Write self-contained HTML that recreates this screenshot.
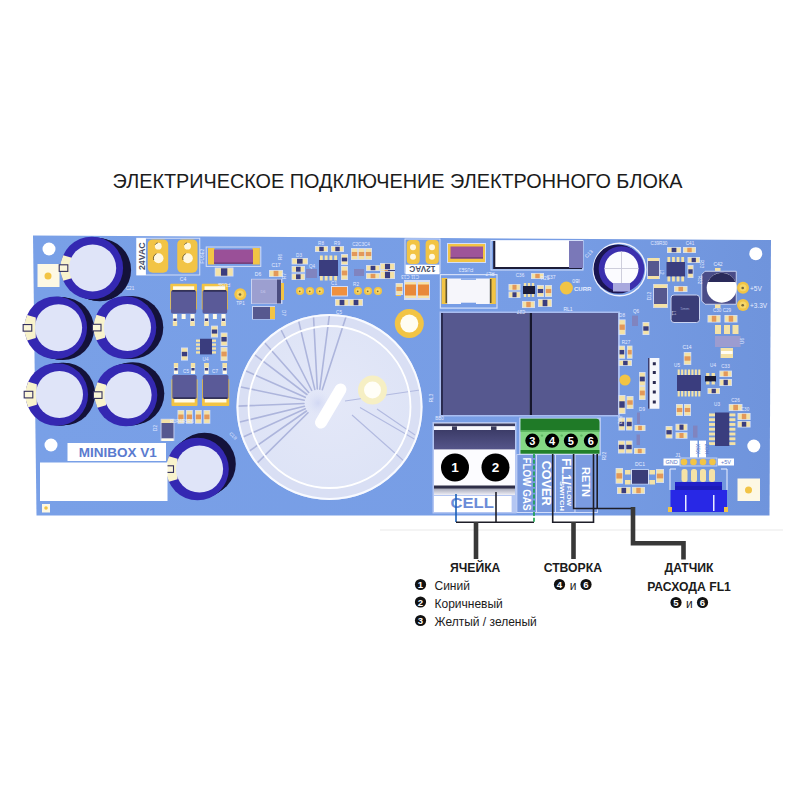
<!DOCTYPE html>
<html><head><meta charset="utf-8">
<style>
html,body{margin:0;padding:0;background:#fff;}
body{width:800px;height:800px;overflow:hidden;position:relative;font-family:"Liberation Sans",sans-serif;}
svg{position:absolute;left:0;top:0;}
</style></head>
<body>
<svg width="800" height="800" viewBox="0 0 800 800" font-family="Liberation Sans, sans-serif">
<defs>
<g id="cap">
  <circle cx="6" cy="-2" r="32" fill="#15123a"/>
  <circle cx="0" cy="0" r="32" fill="#3327b0"/>
  <path d="M-31.3,-11 A32,32 0 0 0 -31.3,11 L-21,8 L-21,-8 Z" fill="#f8f2cf"/>
  <rect x="-30.5" y="-3.5" width="7" height="7" fill="none" stroke="#2c2a60" stroke-width="1.3"/>
  <circle cx="2.5" cy="0" r="23.7" fill="#dfe4f8"/>
</g>
</defs>

<text x="112.6" y="188" font-size="20" textLength="570" lengthAdjust="spacingAndGlyphs" fill="#1b1b1b">ЭЛЕКТРИЧЕСКОЕ ПОДКЛЮЧЕНИЕ ЭЛЕКТРОННОГО БЛОКА</text>
<defs><linearGradient id="bg" x1="0" y1="0" x2="1" y2="0"><stop offset="0" stop-color="#79a0e7"/><stop offset="0.7" stop-color="#779de5"/><stop offset="1" stop-color="#6f94dc"/></linearGradient></defs>
<polygon points="33,235.5 771,240 769.5,515.5 36.5,515.5" fill="url(#bg)"/>
<circle cx="49" cy="249" r="6.5" fill="#fff"/>
<circle cx="755.8" cy="253.7" r="6.5" fill="#fff"/>
<circle cx="51" cy="445" r="6.5" fill="#fff"/>
<circle cx="753.8" cy="446" r="6.5" fill="#fff"/>
<rect x="37.50" y="264.00" width="22.00" height="23.00" fill="#fdf8e4" />
<circle cx="48" cy="276" r="3.5" fill="#f2c445"/>
<rect x="737.50" y="478.50" width="22.50" height="22.50" fill="#fdf8e4" />
<circle cx="748.5" cy="490" r="3.5" fill="#f2c445"/>
<rect x="42.00" y="504.00" width="8.00" height="8.50" fill="#fdf8e4" />
<circle cx="46" cy="508" r="1.8" fill="#f2c445"/>
<rect x="136.75" y="238.25" width="63" height="36.75" fill="none" stroke="#d3def8" stroke-width="1"/>
<rect x="136.50" y="238.10" width="9.40" height="37.00" fill="#fff" />
<text transform="translate(144.6,270.1) rotate(-90)" font-size="9.2" font-weight="bold" fill="#474d66" textLength="27.8" lengthAdjust="spacingAndGlyphs">24VAC</text>
<rect x="147.75" y="239.4" width="20.44999999999999" height="33.4" rx="5" fill="#f2c445"/>
<circle cx="158.3" cy="246.2" r="3.4" fill="#fff8e0"/>
<circle cx="158.5" cy="258.3" r="5" fill="#fff8e0"/>
<path d="M155.10000000000002,244.8 A3.4,3.4 0 0 1 157.8,242.85" stroke="#5a4a20" stroke-width="0.8" fill="none"/>
<path d="M153.7,260 A5,5 0 0 1 156.5,253.7" stroke="#5a4a20" stroke-width="0.8" fill="none"/>
<rect x="177.25" y="239.4" width="20.25" height="33.4" rx="5" fill="#f2c445"/>
<circle cx="187.6" cy="246.2" r="3.4" fill="#fff8e0"/>
<circle cx="187.79999999999998" cy="258.3" r="5" fill="#fff8e0"/>
<path d="M184.4,244.8 A3.4,3.4 0 0 1 187.1,242.85" stroke="#5a4a20" stroke-width="0.8" fill="none"/>
<path d="M182.99999999999997,260 A5,5 0 0 1 185.79999999999998,253.7" stroke="#5a4a20" stroke-width="0.8" fill="none"/>
<rect x="206.2" y="247" width="54.6" height="19.4" fill="none" stroke="#d3def8" stroke-width="1"/>
<rect x="208.00" y="248.00" width="6.50" height="16.50" fill="#f2c445" />
<rect x="252.50" y="248.00" width="7.30" height="16.50" fill="#f2c445" />
<rect x="214.00" y="249.50" width="39.00" height="14.25" fill="#9a5098" />
<rect x="214.00" y="262.50" width="39.00" height="1.25" fill="#6a3a70" />
<rect x="214.75" y="267.50" width="18.75" height="9.00" fill="#d3def8" />
<rect x="215.55" y="268.30" width="17.15" height="7.40" fill="#f4e2a6" />
<rect x="220.94" y="268.30" width="6.38" height="7.40" fill="#3a3d7e" />
<rect x="170.25" y="283.7" width="26.75" height="26" rx="1" fill="#f2c445"/>
<rect x="173.05" y="286.30" width="21.15" height="3.50" fill="#fffbe8" />
<rect x="171.05" y="290.2" width="25.15" height="23.2" rx="1.5" fill="#5a5a98"/>
<rect x="172.25" y="290.20" width="22.75" height="1.40" fill="#23244a" />
<rect x="172.90" y="314.00" width="4.20" height="12.00" fill="#fffbe8" />
<rect x="173.40" y="318.50" width="3.20" height="2.50" fill="#3a3d7e" />
<rect x="172.90" y="321.50" width="4.20" height="4.50" fill="#f4e2a6" />
<rect x="190.40" y="314.00" width="4.20" height="12.00" fill="#fffbe8" />
<rect x="190.90" y="318.50" width="3.20" height="2.50" fill="#3a3d7e" />
<rect x="190.40" y="321.50" width="4.20" height="4.50" fill="#f4e2a6" />
<rect x="181.62" y="314.00" width="4.00" height="5.00" fill="#fffbe8" />
<rect x="201.75" y="283.7" width="26.25" height="26" rx="1" fill="#f2c445"/>
<rect x="204.55" y="286.30" width="20.65" height="3.50" fill="#fffbe8" />
<rect x="202.55" y="290.2" width="24.65" height="23.2" rx="1.5" fill="#5a5a98"/>
<rect x="203.75" y="290.20" width="22.25" height="1.40" fill="#23244a" />
<rect x="204.40" y="314.00" width="4.20" height="12.00" fill="#fffbe8" />
<rect x="204.90" y="318.50" width="3.20" height="2.50" fill="#3a3d7e" />
<rect x="204.40" y="321.50" width="4.20" height="4.50" fill="#f4e2a6" />
<rect x="221.40" y="314.00" width="4.20" height="12.00" fill="#fffbe8" />
<rect x="221.90" y="318.50" width="3.20" height="2.50" fill="#3a3d7e" />
<rect x="221.40" y="321.50" width="4.20" height="4.50" fill="#f4e2a6" />
<rect x="212.88" y="314.00" width="4.00" height="5.00" fill="#fffbe8" />
<text x="183" y="281" font-size="5" fill="#e8eeff" text-anchor="middle" font-weight="normal" >C4</text>
<circle cx="240.3" cy="294.2" r="6" fill="#f2c445"/>
<circle cx="240.3" cy="294.2" r="3.60" fill="#f7d768"/>
<circle cx="240.0" cy="294.5" r="1.32" fill="#7a6a3a"/>
<rect x="251.00" y="278.80" width="31.50" height="25.20" fill="#c9d3f2" />
<rect x="252.00" y="279.50" width="25.00" height="24.00" fill="#9c9fd0" />
<rect x="277.00" y="279.50" width="4.00" height="24.00" fill="#4a4c80" />
<rect x="281.00" y="283.00" width="3.00" height="17.00" fill="#f2c445" />
<text x="263" y="293" font-size="4" fill="#c8ccee" text-anchor="middle" font-weight="normal" >D6</text>
<rect x="252.00" y="306.00" width="23.00" height="13.50" fill="#c9d3f2" />
<rect x="253.00" y="307.00" width="17.00" height="12.00" fill="#56588f" />
<rect x="270.00" y="307.00" width="5.00" height="12.00" fill="#f2c445" />
<rect x="269.00" y="270.00" width="14.00" height="7.00" fill="#d3def8" />
<rect x="269.80" y="270.80" width="12.40" height="5.40" fill="#f4e2a6" />
<rect x="273.62" y="270.80" width="4.76" height="5.40" fill="#e2985a" />
<text x="276" y="267" font-size="5" fill="#e8eeff" text-anchor="middle" font-weight="normal" >C17</text>
<text x="258" y="276" font-size="5" fill="#e8eeff" text-anchor="middle" font-weight="normal" >D6</text>
<rect x="291.60" y="258.00" width="16.40" height="6.50" fill="#d3def8" />
<rect x="292.40" y="258.80" width="14.80" height="4.90" fill="#f4e2a6" />
<rect x="297.01" y="258.80" width="5.58" height="4.90" fill="#3a3d7e" />
<rect x="291.60" y="266.00" width="13.40" height="6.50" fill="#d3def8" />
<rect x="292.40" y="266.80" width="11.80" height="4.90" fill="#f4e2a6" />
<rect x="296.02" y="266.80" width="4.56" height="4.90" fill="#3a3d7e" />
<rect x="291.60" y="273.50" width="13.40" height="6.50" fill="#d3def8" />
<rect x="292.40" y="274.30" width="11.80" height="4.90" fill="#f4e2a6" />
<rect x="296.02" y="274.30" width="4.56" height="4.90" fill="#3a3d7e" />
<rect x="319.00" y="260.00" width="19.00" height="16.00" fill="#3a3d7e" />
<rect x="319.95" y="255.50" width="2.85" height="4.50" fill="#f4e2a6" />
<rect x="319.95" y="276.00" width="2.85" height="4.50" fill="#f4e2a6" />
<rect x="324.70" y="255.50" width="2.85" height="4.50" fill="#f4e2a6" />
<rect x="324.70" y="276.00" width="2.85" height="4.50" fill="#f4e2a6" />
<rect x="329.45" y="255.50" width="2.85" height="4.50" fill="#f4e2a6" />
<rect x="329.45" y="276.00" width="2.85" height="4.50" fill="#f4e2a6" />
<rect x="334.20" y="255.50" width="2.85" height="4.50" fill="#f4e2a6" />
<rect x="334.20" y="276.00" width="2.85" height="4.50" fill="#f4e2a6" />
<rect x="315.00" y="246.00" width="13.00" height="6.00" fill="#d3def8" />
<rect x="315.80" y="246.80" width="11.40" height="4.40" fill="#f4e2a6" />
<rect x="319.29" y="246.80" width="4.42" height="4.40" fill="#3a3d7e" />
<rect x="331.00" y="246.00" width="13.00" height="6.00" fill="#d3def8" />
<rect x="331.80" y="246.80" width="11.40" height="4.40" fill="#f4e2a6" />
<rect x="335.29" y="246.80" width="4.42" height="4.40" fill="#3a3d7e" />
<rect x="341.00" y="254.00" width="7.00" height="11.00" fill="#d3def8" />
<rect x="341.80" y="254.80" width="5.40" height="9.40" fill="#f4e2a6" />
<rect x="341.80" y="257.63" width="5.40" height="3.74" fill="#3a3d7e" />
<rect x="341.00" y="266.00" width="7.00" height="14.00" fill="#d3def8" />
<rect x="341.80" y="266.80" width="5.40" height="12.40" fill="#f4e2a6" />
<rect x="341.80" y="270.62" width="5.40" height="4.76" fill="#e2985a" />
<rect x="306" y="269" width="11" height="9" fill="#8084bf"/>
<rect x="351.00" y="248.00" width="7.00" height="12.00" fill="#d3def8" />
<rect x="351.80" y="248.80" width="5.40" height="10.40" fill="#f4e2a6" />
<rect x="351.80" y="251.96" width="5.40" height="4.08" fill="#e2985a" />
<rect x="358.00" y="248.00" width="7.00" height="12.00" fill="#d3def8" />
<rect x="358.80" y="248.80" width="5.40" height="10.40" fill="#f4e2a6" />
<rect x="358.80" y="251.96" width="5.40" height="4.08" fill="#e2985a" />
<rect x="365.00" y="248.00" width="7.00" height="12.00" fill="#d3def8" />
<rect x="365.80" y="248.80" width="5.40" height="10.40" fill="#f4e2a6" />
<rect x="365.80" y="251.96" width="5.40" height="4.08" fill="#e2985a" />
<circle cx="300" cy="291" r="4" fill="#f2c445"/>
<circle cx="300" cy="291" r="2.40" fill="#f7d768"/>
<circle cx="299.7" cy="291.3" r="0.88" fill="#7a6a3a"/>
<circle cx="310" cy="291" r="4" fill="#f2c445"/>
<circle cx="310" cy="291" r="2.40" fill="#f7d768"/>
<circle cx="309.7" cy="291.3" r="0.88" fill="#7a6a3a"/>
<circle cx="320" cy="291" r="4" fill="#f2c445"/>
<circle cx="320" cy="291" r="2.40" fill="#f7d768"/>
<circle cx="319.7" cy="291.3" r="0.88" fill="#7a6a3a"/>
<circle cx="358" cy="291" r="4" fill="#f2c445"/>
<circle cx="358" cy="291" r="2.40" fill="#f7d768"/>
<circle cx="357.7" cy="291.3" r="0.88" fill="#7a6a3a"/>
<circle cx="368" cy="291" r="4" fill="#f2c445"/>
<circle cx="368" cy="291" r="2.40" fill="#f7d768"/>
<circle cx="367.7" cy="291.3" r="0.88" fill="#7a6a3a"/>
<circle cx="378" cy="291" r="4" fill="#f2c445"/>
<circle cx="378" cy="291" r="2.40" fill="#f7d768"/>
<circle cx="377.7" cy="291.3" r="0.88" fill="#7a6a3a"/>
<rect x="331.00" y="286.00" width="17.00" height="10.50" fill="#d3def8" />
<rect x="332.00" y="287.00" width="15.00" height="8.50" fill="#f0903e" />
<rect x="335.00" y="299.00" width="14.00" height="7.00" fill="#d3def8" />
<rect x="335.80" y="299.80" width="12.40" height="5.40" fill="#f4e2a6" />
<rect x="339.62" y="299.80" width="4.76" height="5.40" fill="#3a3d7e" />
<rect x="349.00" y="299.00" width="14.00" height="7.00" fill="#d3def8" />
<rect x="349.80" y="299.80" width="12.40" height="5.40" fill="#f4e2a6" />
<rect x="353.62" y="299.80" width="4.76" height="5.40" fill="#3a3d7e" />
<rect x="354" y="269" width="10" height="7" fill="#8084bf"/>
<rect x="366.00" y="265.00" width="14.00" height="6.00" fill="#d3def8" />
<rect x="366.80" y="265.80" width="12.40" height="4.40" fill="#f4e2a6" />
<rect x="370.62" y="265.80" width="4.76" height="4.40" fill="#3a3d7e" />
<rect x="366.00" y="273.00" width="14.00" height="6.00" fill="#d3def8" />
<rect x="366.80" y="273.80" width="12.40" height="4.40" fill="#f4e2a6" />
<rect x="370.62" y="273.80" width="4.76" height="4.40" fill="#e2985a" />
<rect x="380.00" y="266.00" width="14.00" height="6.00" fill="#d3def8" />
<rect x="380.80" y="266.80" width="12.40" height="4.40" fill="#f4e2a6" />
<rect x="384.62" y="266.80" width="4.76" height="4.40" fill="#e2985a" />
<rect x="380.00" y="273.00" width="14.00" height="6.00" fill="#d3def8" />
<rect x="380.80" y="273.80" width="12.40" height="4.40" fill="#f4e2a6" />
<rect x="384.62" y="273.80" width="4.76" height="4.40" fill="#e2985a" />
<rect x="388.00" y="264.00" width="7.00" height="9.00" fill="#3a3d7e" />
<rect x="396.00" y="283.00" width="5.00" height="13.00" fill="#f2c445" />
<rect x="405" y="239" width="35" height="34" fill="none" stroke="#d3def8" stroke-width="1"/>
<rect x="406.75" y="240" width="12.949999999999989" height="24" rx="4" fill="#f2c445"/>
<circle cx="413" cy="247.25" r="3" fill="#fff8e0"/>
<circle cx="413" cy="256.8" r="3" fill="#fff8e0"/>
<rect x="425.6" y="240" width="13.199999999999989" height="24" rx="4" fill="#f2c445"/>
<circle cx="432" cy="247.25" r="3" fill="#fff8e0"/>
<circle cx="432" cy="256.8" r="3" fill="#fff8e0"/>
<rect x="405.60" y="264.70" width="33.80" height="9.55" fill="#fff" />
<text transform="translate(435.4,265.9) rotate(180)" font-size="8.6" font-weight="bold" fill="#474d66" textLength="26" lengthAdjust="spacingAndGlyphs">12VAC</text>
<rect x="447.00" y="243.00" width="39.00" height="20.00" fill="#d3def8" />
<rect x="448.00" y="244.00" width="37.00" height="18.00" fill="#f2c445" />
<rect x="450.50" y="246.50" width="32.50" height="12.00" fill="#9e5499" />
<rect x="450.50" y="257.30" width="32.50" height="1.20" fill="#6a3a70" />
<text x="466" y="268" font-size="4.5" fill="#e8eeff" text-anchor="middle" font-weight="normal" transform="rotate(180 466 268)" >FUSE3</text>
<rect x="439.80" y="274.00" width="57.80" height="34.70" fill="#d3def8" />
<rect x="441.00" y="275.20" width="55.40" height="32.30" fill="#779de5" />
<rect x="441.60" y="278.00" width="5.60" height="26.00" fill="#f2c445" />
<rect x="489.70" y="278.00" width="6.10" height="26.00" fill="#f2c445" />
<rect x="445.50" y="279.00" width="1.80" height="24.00" fill="#5a5030" />
<rect x="489.70" y="279.00" width="1.80" height="24.00" fill="#5a5030" />
<rect x="447.25" y="278.50" width="42.45" height="25.50" fill="#f6f6fb" />
<rect x="461.00" y="278.50" width="15.00" height="1.30" fill="#779de5" />
<rect x="461.00" y="302.70" width="15.00" height="1.30" fill="#779de5" />
<text x="490" y="272" font-size="5" fill="#e8eeff" text-anchor="middle" font-weight="normal" transform="rotate(180 490 272)" >RL7</text>
<rect x="404.00" y="280.00" width="26.00" height="20.00" fill="#d3def8" />
<rect x="405.00" y="282.00" width="11.00" height="16.00" fill="#f6e2a8" />
<rect x="418.00" y="282.00" width="11.00" height="16.00" fill="#f6e2a8" />
<rect x="405.00" y="284.50" width="11.00" height="11.00" fill="#e8893a" />
<rect x="418.00" y="284.50" width="11.00" height="11.00" fill="#e8893a" />
<rect x="395.60" y="283.00" width="7.40" height="12.00" fill="#d3def8" />
<rect x="396.40" y="283.80" width="5.80" height="10.40" fill="#f4e2a6" />
<rect x="396.40" y="286.96" width="5.80" height="4.08" fill="#e2985a" />
<rect x="380.00" y="263.00" width="15.00" height="7.00" fill="#d3def8" />
<rect x="380.80" y="263.80" width="13.40" height="5.40" fill="#f4e2a6" />
<rect x="384.95" y="263.80" width="5.10" height="5.40" fill="#3a3d7e" />
<rect x="380.00" y="271.00" width="15.00" height="8.00" fill="#d3def8" />
<rect x="380.80" y="271.80" width="13.40" height="6.40" fill="#f4e2a6" />
<rect x="384.95" y="271.80" width="5.10" height="6.40" fill="#3a3d7e" />
<circle cx="409.3" cy="323.6" r="14.5" fill="#f2c445"/>
<circle cx="409.3" cy="323.6" r="9" fill="#fffdf2"/>
<rect x="490.50" y="240.00" width="93.00" height="30.50" fill="#d3def8" />
<rect x="491.50" y="241.00" width="91.00" height="28.50" fill="#779de5" />
<rect x="493.20" y="241.00" width="88.80" height="28.00" fill="#1c1c38" />
<rect x="495.30" y="240.50" width="73.70" height="26.50" fill="#ffffff" />
<rect x="569.00" y="241.00" width="14.00" height="27.00" fill="#7a78b8" />
<text x="576" y="279" font-size="5" fill="#e8eeff" text-anchor="middle" font-weight="normal" transform="rotate(180 576 279)" >IB0</text>
<rect x="508.50" y="284.00" width="12.00" height="6.50" fill="#d3def8" />
<rect x="509.30" y="284.80" width="10.40" height="4.90" fill="#f4e2a6" />
<rect x="512.46" y="284.80" width="4.08" height="4.90" fill="#e2985a" />
<rect x="508.50" y="291.50" width="12.00" height="6.50" fill="#d3def8" />
<rect x="509.30" y="292.30" width="10.40" height="4.90" fill="#f4e2a6" />
<rect x="512.46" y="292.30" width="4.08" height="4.90" fill="#3a3d7e" />
<rect x="523.00" y="286.00" width="12.00" height="8.00" fill="#1c1d3a" />
<rect x="523.80" y="283.00" width="2.40" height="3.00" fill="#f4e2a6" />
<rect x="523.80" y="294.00" width="2.40" height="3.00" fill="#f4e2a6" />
<rect x="527.80" y="283.00" width="2.40" height="3.00" fill="#f4e2a6" />
<rect x="527.80" y="294.00" width="2.40" height="3.00" fill="#f4e2a6" />
<rect x="531.80" y="283.00" width="2.40" height="3.00" fill="#f4e2a6" />
<rect x="531.80" y="294.00" width="2.40" height="3.00" fill="#f4e2a6" />
<rect x="522.00" y="301.00" width="13.00" height="7.00" fill="#d3def8" />
<rect x="522.80" y="301.80" width="11.40" height="5.40" fill="#f4e2a6" />
<rect x="526.29" y="301.80" width="4.42" height="5.40" fill="#e2985a" />
<rect x="531.00" y="273.00" width="13.00" height="6.00" fill="#d3def8" />
<rect x="531.80" y="273.80" width="11.40" height="4.40" fill="#f4e2a6" />
<rect x="535.29" y="273.80" width="4.42" height="4.40" fill="#e2985a" />
<text x="551" y="279" font-size="5" fill="#e8eeff" text-anchor="middle" font-weight="normal" >C37</text>
<rect x="537.00" y="285.00" width="7.00" height="12.00" fill="#d3def8" />
<rect x="537.80" y="285.80" width="5.40" height="10.40" fill="#f4e2a6" />
<rect x="537.80" y="288.96" width="5.40" height="4.08" fill="#3a3d7e" />
<rect x="545.00" y="285.00" width="7.00" height="12.00" fill="#d3def8" />
<rect x="545.80" y="285.80" width="5.40" height="10.40" fill="#f4e2a6" />
<rect x="545.80" y="288.96" width="5.40" height="4.08" fill="#e2985a" />
<rect x="538.00" y="299.00" width="14.00" height="8.00" fill="#d3def8" />
<rect x="538.80" y="299.80" width="12.40" height="6.40" fill="#f4e2a6" />
<rect x="542.62" y="299.80" width="4.76" height="6.40" fill="#3a3d7e" />
<circle cx="566.4" cy="288" r="6.5" fill="#f2c445"/>
<text x="574" y="291" font-size="6" fill="#e8eeff" text-anchor="start" font-weight="bold" >CURR</text>
<circle cx="619.5" cy="269.5" r="27" fill="#f0f3fd"/>
<circle cx="619.5" cy="269.5" r="25.6" fill="#779de5"/>
<ellipse cx="618" cy="269" rx="24.5" ry="24.5" fill="#1a1650"/>
<circle cx="621.5" cy="269" r="22.8" fill="#3b2fae"/>
<circle cx="621.5" cy="268.5" r="17" fill="#fbfbff"/>
<path d="M613,283 L630,283 L630,291.5 L613,291.5 Z" fill="#a9a9de"/>
<line x1="621.5" y1="251.5" x2="621.5" y2="283" stroke="#c8c8d8" stroke-width="0.9"/>
<line x1="604.5" y1="268.5" x2="638.5" y2="268.5" stroke="#c8c8d8" stroke-width="0.9"/>
<text x="590" y="255" font-size="5" fill="#e8eeff" text-anchor="middle" font-weight="normal" transform="rotate(-45 590 255)" >C13</text>
<rect x="647.00" y="258.00" width="13.00" height="21.00" fill="#c9d3f2" />
<rect x="648.00" y="260.00" width="11.00" height="17.00" fill="#56588f" />
<rect x="648.00" y="258.00" width="11.00" height="3.00" fill="#f4e2a6" />
<rect x="648.00" y="276.00" width="11.00" height="3.00" fill="#f4e2a6" />
<rect x="653.00" y="284.00" width="15.00" height="24.00" fill="#c9d3f2" />
<rect x="654.00" y="287.00" width="13.00" height="17.00" fill="#56588f" />
<rect x="654.00" y="284.50" width="13.00" height="3.50" fill="#f4e2a6" />
<rect x="654.00" y="304.00" width="13.00" height="3.50" fill="#f4e2a6" />
<rect x="667.00" y="247.00" width="14.00" height="6.00" fill="#d3def8" />
<rect x="667.80" y="247.80" width="12.40" height="4.40" fill="#f4e2a6" />
<rect x="671.62" y="247.80" width="4.76" height="4.40" fill="#3a3d7e" />
<rect x="683.00" y="247.00" width="13.00" height="6.00" fill="#d3def8" />
<rect x="683.80" y="247.80" width="11.40" height="4.40" fill="#f4e2a6" />
<rect x="687.29" y="247.80" width="4.42" height="4.40" fill="#e2985a" />
<rect x="666.50" y="262.00" width="18.50" height="14.50" fill="#3a3d7e" />
<rect x="667.42" y="257.00" width="2.78" height="5.00" fill="#f4e2a6" />
<rect x="667.42" y="276.50" width="2.78" height="5.00" fill="#f4e2a6" />
<rect x="672.05" y="257.00" width="2.78" height="5.00" fill="#f4e2a6" />
<rect x="672.05" y="276.50" width="2.78" height="5.00" fill="#f4e2a6" />
<rect x="676.67" y="257.00" width="2.78" height="5.00" fill="#f4e2a6" />
<rect x="676.67" y="276.50" width="2.78" height="5.00" fill="#f4e2a6" />
<rect x="681.30" y="257.00" width="2.78" height="5.00" fill="#f4e2a6" />
<rect x="681.30" y="276.50" width="2.78" height="5.00" fill="#f4e2a6" />
<rect x="687.50" y="257.00" width="12.50" height="6.00" fill="#d3def8" />
<rect x="688.30" y="257.80" width="10.90" height="4.40" fill="#f4e2a6" />
<rect x="691.62" y="257.80" width="4.25" height="4.40" fill="#3a3d7e" />
<rect x="687.50" y="265.00" width="6.00" height="13.00" fill="#d3def8" />
<rect x="688.30" y="265.80" width="4.40" height="11.40" fill="#f4e2a6" />
<rect x="688.30" y="269.29" width="4.40" height="4.42" fill="#3a3d7e" />
<rect x="674.00" y="286.00" width="13.50" height="6.00" fill="#d3def8" />
<rect x="674.80" y="286.80" width="11.90" height="4.40" fill="#f4e2a6" />
<rect x="678.46" y="286.80" width="4.59" height="4.40" fill="#e2985a" />
<rect x="671" y="295" width="28.5" height="27.5" rx="3" fill="#3a3d78" stroke="#c9d3f2" stroke-width="1"/>
<text x="685" y="310" font-size="4" fill="#9aa0d0" text-anchor="middle" font-weight="normal" >5mm</text>
<rect x="715.00" y="268.00" width="5.50" height="3.00" fill="#f4e2a6" />
<path d="M705,271.25 L736.25,271.25 L736.25,304.25 L705,304.25 L701.75,301 L701.75,274.5 Z" fill="#4a4c88" stroke="#c9d3f2" stroke-width="1"/>
<circle cx="721.7" cy="287.75" r="15" fill="#ffffff"/>
<path d="M707.8,282 A15,15 0 0 1 735.6,282 Z" fill="#2a2a5a"/>
<rect x="715.00" y="304.50" width="5.50" height="3.50" fill="#f4e2a6" />
<text x="718" y="266" font-size="5" fill="#e8eeff" text-anchor="middle" font-weight="normal" >C42</text>
<circle cx="743" cy="287.75" r="6" fill="#f2c445"/>
<circle cx="743" cy="287.75" r="3.60" fill="#f7d768"/>
<circle cx="742.7" cy="288.05" r="1.32" fill="#7a6a3a"/>
<text x="750" y="290.5" font-size="6.5" fill="#e8eeff" text-anchor="start" font-weight="normal" >+5V</text>
<circle cx="743" cy="305" r="6" fill="#f2c445"/>
<circle cx="743" cy="305" r="3.60" fill="#f7d768"/>
<circle cx="742.7" cy="305.3" r="1.32" fill="#7a6a3a"/>
<text x="750" y="308" font-size="6.5" fill="#e8eeff" text-anchor="start" font-weight="normal" >+3.3V</text>
<rect x="439.50" y="311.50" width="180.50" height="105.00" fill="#a9bdf0" />
<rect x="441.00" y="313.00" width="88.50" height="102.00" fill="#56588f" />
<rect x="529.50" y="313.00" width="2.50" height="102.00" fill="#16162c" />
<rect x="532.00" y="313.00" width="86.00" height="102.00" fill="#56588f" />
<rect x="441.00" y="313.00" width="2.00" height="102.00" fill="#2a2b50" />
<text x="568" y="311" font-size="5" fill="#e8eeff" text-anchor="middle" font-weight="normal" >RL1</text>
<rect x="618.75" y="319.40" width="6.85" height="15.60" fill="#d3def8" />
<rect x="619.55" y="320.20" width="5.25" height="14.00" fill="#f4e2a6" />
<rect x="619.55" y="324.55" width="5.25" height="5.30" fill="#e2985a" />
<rect x="632" y="315.6" width="6" height="10.4" fill="#8084bf"/>
<rect x="642.50" y="322.00" width="6.90" height="13.00" fill="#d3def8" />
<rect x="643.30" y="322.80" width="5.30" height="11.40" fill="#f4e2a6" />
<rect x="643.30" y="326.29" width="5.30" height="4.42" fill="#3a3d7e" />
<rect x="618.75" y="345.60" width="6.25" height="13.15" fill="#d3def8" />
<rect x="619.55" y="346.40" width="4.65" height="11.55" fill="#f4e2a6" />
<rect x="619.55" y="349.94" width="4.65" height="4.47" fill="#3a3d7e" />
<rect x="627.00" y="345.60" width="5.50" height="13.15" fill="#d3def8" />
<rect x="627.80" y="346.40" width="3.90" height="11.55" fill="#f4e2a6" />
<rect x="627.80" y="349.94" width="3.90" height="4.47" fill="#e2985a" />
<rect x="618.75" y="360.00" width="13.25" height="6.00" fill="#d3def8" />
<rect x="619.55" y="360.80" width="11.65" height="4.40" fill="#f4e2a6" />
<rect x="623.12" y="360.80" width="4.51" height="4.40" fill="#3a3d7e" />
<circle cx="625" cy="380" r="5.6" fill="#f2c445"/>
<rect x="639.00" y="372.00" width="6.60" height="14.00" fill="#d3def8" />
<rect x="639.80" y="372.80" width="5.00" height="12.40" fill="#f4e2a6" />
<rect x="639.80" y="376.62" width="5.00" height="4.76" fill="#3a3d7e" />
<rect x="639.00" y="386.00" width="6.60" height="14.00" fill="#d3def8" />
<rect x="639.80" y="386.80" width="5.00" height="12.40" fill="#f4e2a6" />
<rect x="639.80" y="390.62" width="5.00" height="4.76" fill="#e2985a" />
<rect x="648.00" y="358.00" width="11.40" height="50.75" fill="#f6f7fc" />
<rect x="648.00" y="358.00" width="1.50" height="50.75" fill="#3a3d70" />
<rect x="652.80" y="362.25" width="3.00" height="3.00" fill="#2a2a50" />
<rect x="652.80" y="371.00" width="3.00" height="3.00" fill="#2a2a50" />
<rect x="652.80" y="381.00" width="3.00" height="3.00" fill="#2a2a50" />
<rect x="652.80" y="390.50" width="3.00" height="3.00" fill="#2a2a50" />
<rect x="652.80" y="400.50" width="3.00" height="3.00" fill="#2a2a50" />
<rect x="683.75" y="352.00" width="7.50" height="13.00" fill="#d3def8" />
<rect x="684.55" y="352.80" width="5.90" height="11.40" fill="#f4e2a6" />
<rect x="684.55" y="356.29" width="5.90" height="4.42" fill="#e2985a" />
<text x="687" y="349" font-size="5" fill="#e8eeff" text-anchor="middle" font-weight="normal" >C14</text>
<rect x="677.00" y="375.00" width="24.00" height="16.00" fill="#3a3d7e" />
<rect x="677.69" y="369.50" width="2.06" height="5.50" fill="#f4e2a6" />
<rect x="677.69" y="391.00" width="2.06" height="5.50" fill="#f4e2a6" />
<rect x="681.11" y="369.50" width="2.06" height="5.50" fill="#f4e2a6" />
<rect x="681.11" y="391.00" width="2.06" height="5.50" fill="#f4e2a6" />
<rect x="684.54" y="369.50" width="2.06" height="5.50" fill="#f4e2a6" />
<rect x="684.54" y="391.00" width="2.06" height="5.50" fill="#f4e2a6" />
<rect x="687.97" y="369.50" width="2.06" height="5.50" fill="#f4e2a6" />
<rect x="687.97" y="391.00" width="2.06" height="5.50" fill="#f4e2a6" />
<rect x="691.40" y="369.50" width="2.06" height="5.50" fill="#f4e2a6" />
<rect x="691.40" y="391.00" width="2.06" height="5.50" fill="#f4e2a6" />
<rect x="694.83" y="369.50" width="2.06" height="5.50" fill="#f4e2a6" />
<rect x="694.83" y="391.00" width="2.06" height="5.50" fill="#f4e2a6" />
<rect x="698.26" y="369.50" width="2.06" height="5.50" fill="#f4e2a6" />
<rect x="698.26" y="391.00" width="2.06" height="5.50" fill="#f4e2a6" />
<rect x="705.00" y="376.00" width="11.00" height="5.50" fill="#1a1a36" />
<rect x="706.10" y="373.00" width="3.30" height="3.00" fill="#f4e2a6" />
<rect x="706.10" y="381.50" width="3.30" height="3.00" fill="#f4e2a6" />
<rect x="711.60" y="373.00" width="3.30" height="3.00" fill="#f4e2a6" />
<rect x="711.60" y="381.50" width="3.30" height="3.00" fill="#f4e2a6" />
<rect x="719.40" y="370.60" width="12.60" height="6.40" fill="#d3def8" />
<rect x="720.20" y="371.40" width="11.00" height="4.80" fill="#f4e2a6" />
<rect x="723.56" y="371.40" width="4.28" height="4.80" fill="#e2985a" />
<rect x="719.40" y="379.00" width="12.60" height="7.00" fill="#d3def8" />
<rect x="720.20" y="379.80" width="11.00" height="5.40" fill="#f4e2a6" />
<rect x="723.56" y="379.80" width="4.28" height="5.40" fill="#3a3d7e" />
<rect x="707.50" y="388.00" width="12.50" height="6.00" fill="#d3def8" />
<rect x="708.30" y="388.80" width="10.90" height="4.40" fill="#f4e2a6" />
<rect x="711.62" y="388.80" width="4.25" height="4.40" fill="#3a3d7e" />
<rect x="707.50" y="315.00" width="13.10" height="7.50" fill="#d3def8" />
<rect x="708.30" y="315.80" width="11.50" height="5.90" fill="#f4e2a6" />
<rect x="711.82" y="315.80" width="4.45" height="5.90" fill="#e2985a" />
<rect x="724.40" y="315.00" width="13.10" height="7.50" fill="#d3def8" />
<rect x="725.20" y="315.80" width="11.50" height="5.90" fill="#f4e2a6" />
<rect x="728.72" y="315.80" width="4.45" height="5.90" fill="#e2985a" />
<rect x="715.00" y="325.00" width="6.00" height="9.00" fill="#f4e2a6" />
<rect x="724.00" y="325.00" width="6.00" height="9.00" fill="#f4e2a6" />
<rect x="732.50" y="325.00" width="6.00" height="9.00" fill="#f4e2a6" />
<rect x="715.00" y="336.00" width="25.60" height="11.00" fill="#9c9cd0" />
<rect x="720.60" y="348.00" width="12.40" height="10.00" fill="#f4e2a6" />
<rect x="721.00" y="351.00" width="11.50" height="3.00" fill="#fffdf5" />
<rect x="618.50" y="395.00" width="7.00" height="19.00" fill="#d3def8" />
<rect x="619.30" y="395.80" width="5.40" height="17.40" fill="#f4e2a6" />
<rect x="619.30" y="401.27" width="5.40" height="6.46" fill="#3a3d7e" />
<rect x="626.50" y="396.00" width="7.00" height="13.00" fill="#d3def8" />
<rect x="627.30" y="396.80" width="5.40" height="11.40" fill="#f4e2a6" />
<rect x="627.30" y="400.29" width="5.40" height="4.42" fill="#e2985a" />
<rect x="618.50" y="417.50" width="6.50" height="13.00" fill="#d3def8" />
<rect x="619.30" y="418.30" width="4.90" height="11.40" fill="#f4e2a6" />
<rect x="619.30" y="421.79" width="4.90" height="4.42" fill="#3a3d7e" />
<rect x="626.00" y="417.50" width="6.50" height="13.00" fill="#d3def8" />
<rect x="626.80" y="418.30" width="4.90" height="11.40" fill="#f4e2a6" />
<rect x="626.80" y="421.79" width="4.90" height="4.42" fill="#3a3d7e" />
<rect x="637" y="412.5" width="3" height="11.5" fill="#8084bf"/>
<rect x="634.50" y="425.00" width="11.00" height="6.00" fill="#d3def8" />
<rect x="635.30" y="425.80" width="9.40" height="4.40" fill="#f4e2a6" />
<rect x="638.13" y="425.80" width="3.74" height="4.40" fill="#e2985a" />
<rect x="618.00" y="440.50" width="7.00" height="13.00" fill="#d3def8" />
<rect x="618.80" y="441.30" width="5.40" height="11.40" fill="#f4e2a6" />
<rect x="618.80" y="444.79" width="5.40" height="4.42" fill="#3a3d7e" />
<rect x="625.50" y="440.50" width="7.00" height="13.00" fill="#d3def8" />
<rect x="626.30" y="441.30" width="5.40" height="11.40" fill="#f4e2a6" />
<rect x="626.30" y="444.79" width="5.40" height="4.42" fill="#3a3d7e" />
<rect x="636.5" y="434.5" width="3.5" height="10.5" fill="#8084bf"/>
<rect x="634.00" y="448.00" width="11.50" height="6.00" fill="#d3def8" />
<rect x="634.80" y="448.80" width="9.90" height="4.40" fill="#f4e2a6" />
<rect x="637.79" y="448.80" width="3.91" height="4.40" fill="#e2985a" />
<rect x="665.60" y="426.00" width="6.90" height="12.50" fill="#d3def8" />
<rect x="666.40" y="426.80" width="5.30" height="10.90" fill="#f4e2a6" />
<rect x="666.40" y="430.12" width="5.30" height="4.25" fill="#3a3d7e" />
<rect x="676.00" y="404.00" width="7.00" height="12.00" fill="#d3def8" />
<rect x="676.80" y="404.80" width="5.40" height="10.40" fill="#f4e2a6" />
<rect x="676.80" y="407.96" width="5.40" height="4.08" fill="#e2985a" />
<rect x="684.00" y="404.00" width="7.00" height="12.00" fill="#d3def8" />
<rect x="684.80" y="404.80" width="5.40" height="10.40" fill="#f4e2a6" />
<rect x="684.80" y="407.96" width="5.40" height="4.08" fill="#e2985a" />
<rect x="675.50" y="423.80" width="12.00" height="6.80" fill="#d3def8" />
<rect x="676.30" y="424.60" width="10.40" height="5.20" fill="#f4e2a6" />
<rect x="679.46" y="424.60" width="4.08" height="5.20" fill="#3a3d7e" />
<rect x="675.50" y="432.20" width="12.00" height="6.60" fill="#d3def8" />
<rect x="676.30" y="433.00" width="10.40" height="5.00" fill="#f4e2a6" />
<rect x="679.46" y="433.00" width="4.08" height="5.00" fill="#e2985a" />
<rect x="693" y="425.6" width="4.5" height="12" fill="#8084bf"/>
<rect x="715.00" y="412.50" width="14.40" height="33.50" fill="#3a3d7e" />
<rect x="709.00" y="413.46" width="6.00" height="2.87" fill="#f4e2a6" />
<rect x="729.40" y="413.46" width="6.00" height="2.87" fill="#f4e2a6" />
<rect x="709.00" y="418.24" width="6.00" height="2.87" fill="#f4e2a6" />
<rect x="729.40" y="418.24" width="6.00" height="2.87" fill="#f4e2a6" />
<rect x="709.00" y="423.03" width="6.00" height="2.87" fill="#f4e2a6" />
<rect x="729.40" y="423.03" width="6.00" height="2.87" fill="#f4e2a6" />
<rect x="709.00" y="427.81" width="6.00" height="2.87" fill="#f4e2a6" />
<rect x="729.40" y="427.81" width="6.00" height="2.87" fill="#f4e2a6" />
<rect x="709.00" y="432.60" width="6.00" height="2.87" fill="#f4e2a6" />
<rect x="729.40" y="432.60" width="6.00" height="2.87" fill="#f4e2a6" />
<rect x="709.00" y="437.39" width="6.00" height="2.87" fill="#f4e2a6" />
<rect x="729.40" y="437.39" width="6.00" height="2.87" fill="#f4e2a6" />
<rect x="709.00" y="442.17" width="6.00" height="2.87" fill="#f4e2a6" />
<rect x="729.40" y="442.17" width="6.00" height="2.87" fill="#f4e2a6" />
<rect x="728.75" y="404.00" width="13.75" height="7.00" fill="#d3def8" />
<rect x="729.55" y="404.80" width="12.15" height="5.40" fill="#f4e2a6" />
<rect x="733.29" y="404.80" width="4.67" height="5.40" fill="#e2985a" />
<rect x="737.50" y="413.00" width="13.10" height="7.00" fill="#d3def8" />
<rect x="738.30" y="413.80" width="11.50" height="5.40" fill="#f4e2a6" />
<rect x="741.82" y="413.80" width="4.45" height="5.40" fill="#e2985a" />
<rect x="737.50" y="421.00" width="13.10" height="6.50" fill="#d3def8" />
<rect x="738.30" y="421.80" width="11.50" height="4.90" fill="#f4e2a6" />
<rect x="741.82" y="421.80" width="4.45" height="4.90" fill="#3a3d7e" />
<rect x="690.00" y="440.60" width="7.50" height="16.90" fill="#fff" />
<rect x="699.00" y="440.60" width="7.00" height="16.90" fill="#fff" />
<text x="695.8" y="449" font-size="5" fill="#5a78c8" text-anchor="middle" font-weight="normal" transform="rotate(90 695.8 449)" >XRX</text>
<text x="704.8" y="449" font-size="5" fill="#5a78c8" text-anchor="middle" font-weight="normal" transform="rotate(90 704.8 449)" >ZOH</text>
<rect x="680.00" y="458.00" width="37.00" height="8.00" fill="#7f9ee0" />
<rect x="680" y="458" width="37" height="8" fill="none" stroke="#d3def8" stroke-width="0.8"/>
<circle cx="684" cy="462" r="3.3" fill="#f2c445"/>
<circle cx="693.5" cy="462" r="3.3" fill="#f2c445"/>
<circle cx="703" cy="462" r="3.3" fill="#f2c445"/>
<circle cx="712.5" cy="462" r="3.3" fill="#f2c445"/>
<rect x="663.50" y="458.50" width="16.00" height="7.00" fill="#fff" />
<text x="671.5" y="464" font-size="5.5" fill="#5a78c8" text-anchor="middle" font-weight="normal" >GND</text>
<rect x="718.00" y="458.50" width="16.00" height="7.00" fill="#fff" />
<text x="726" y="464" font-size="5.5" fill="#5a78c8" text-anchor="middle" font-weight="normal" >+5V</text>
<text x="678" y="457" font-size="5" fill="#e8eeff" text-anchor="middle" font-weight="normal" >J1</text>
<path d="M676,469 H670 V490 M721,469 H727 V490" fill="none" stroke="#eef2ff" stroke-width="1"/>
<rect x="681.5" y="469" width="6" height="13" rx="2.5" fill="#f4e2a6"/>
<rect x="691" y="469" width="6" height="13" rx="2.5" fill="#f4e2a6"/>
<rect x="700" y="469" width="6" height="13" rx="2.5" fill="#f4e2a6"/>
<rect x="709" y="469" width="6" height="13" rx="2.5" fill="#f4e2a6"/>
<rect x="675.00" y="482.00" width="47.00" height="8.00" fill="#1c1cb8" />
<rect x="670.50" y="490.00" width="56.50" height="22.00" fill="#2828e6" />
<rect x="675.00" y="482.00" width="47.00" height="4.00" fill="#2020c8" />
<rect x="685.00" y="495.00" width="1.50" height="16.00" fill="#e8ecff" />
<rect x="713.00" y="495.00" width="1.50" height="16.00" fill="#e8ecff" />
<rect x="668.00" y="507.00" width="4.00" height="5.00" fill="#f2c445" />
<rect x="724.00" y="507.00" width="4.00" height="5.00" fill="#f2c445" />
<rect x="657.50" y="469.00" width="6.00" height="13.50" fill="#d3def8" />
<rect x="658.30" y="469.80" width="4.40" height="11.90" fill="#f4e2a6" />
<rect x="658.30" y="473.45" width="4.40" height="4.59" fill="#e2985a" />
<rect x="631.00" y="469.30" width="18.00" height="15.10" fill="#d3def8" />
<rect x="632.00" y="470.00" width="16.00" height="13.75" fill="#3a3d78" />
<rect x="625.00" y="470.00" width="5.60" height="4.50" fill="#f4e2a6" />
<rect x="649.40" y="470.00" width="5.60" height="4.50" fill="#f4e2a6" />
<rect x="625.00" y="480.00" width="5.60" height="4.50" fill="#f4e2a6" />
<rect x="649.40" y="480.00" width="5.60" height="4.50" fill="#f4e2a6" />
<rect x="615.60" y="468.00" width="7.40" height="15.75" fill="#d3def8" />
<rect x="616.40" y="468.80" width="5.80" height="14.15" fill="#f4e2a6" />
<rect x="616.40" y="473.20" width="5.80" height="5.36" fill="#e2985a" />
<rect x="656.00" y="469.00" width="8.00" height="14.00" fill="#d3def8" />
<rect x="656.80" y="469.80" width="6.40" height="12.40" fill="#f4e2a6" />
<rect x="656.80" y="473.62" width="6.40" height="4.76" fill="#e2985a" />
<rect x="617.00" y="487.00" width="13.60" height="7.00" fill="#d3def8" />
<rect x="617.80" y="487.80" width="12.00" height="5.40" fill="#f4e2a6" />
<rect x="621.49" y="487.80" width="4.62" height="5.40" fill="#3a3d7e" />
<rect x="632.00" y="487.00" width="13.00" height="7.00" fill="#d3def8" />
<rect x="632.80" y="487.80" width="11.40" height="5.40" fill="#f4e2a6" />
<rect x="636.29" y="487.80" width="4.42" height="5.40" fill="#e2985a" />
<text x="640" y="466" font-size="5" fill="#e8eeff" text-anchor="middle" font-weight="normal" >DC1</text>
<rect x="211.00" y="325.60" width="7.00" height="11.90" fill="#d3def8" />
<rect x="211.80" y="326.40" width="5.40" height="10.30" fill="#f4e2a6" />
<rect x="211.80" y="329.53" width="5.40" height="4.05" fill="#3a3d7e" />
<rect x="200.00" y="338.75" width="12.00" height="15.65" fill="#3a3d7e" />
<rect x="196.00" y="339.53" width="4.00" height="2.35" fill="#f4e2a6" />
<rect x="212.00" y="339.53" width="4.00" height="2.35" fill="#f4e2a6" />
<rect x="196.00" y="343.44" width="4.00" height="2.35" fill="#f4e2a6" />
<rect x="212.00" y="343.44" width="4.00" height="2.35" fill="#f4e2a6" />
<rect x="196.00" y="347.36" width="4.00" height="2.35" fill="#f4e2a6" />
<rect x="212.00" y="347.36" width="4.00" height="2.35" fill="#f4e2a6" />
<rect x="196.00" y="351.27" width="4.00" height="2.35" fill="#f4e2a6" />
<rect x="212.00" y="351.27" width="4.00" height="2.35" fill="#f4e2a6" />
<rect x="181.00" y="347.50" width="7.00" height="13.10" fill="#d3def8" />
<rect x="181.80" y="348.30" width="5.40" height="11.50" fill="#f4e2a6" />
<rect x="181.80" y="351.82" width="5.40" height="4.45" fill="#3a3d7e" />
<rect x="220.60" y="332.50" width="6.90" height="13.50" fill="#d3def8" />
<rect x="221.40" y="333.30" width="5.30" height="11.90" fill="#f4e2a6" />
<rect x="221.40" y="336.95" width="5.30" height="4.59" fill="#3a3d7e" />
<rect x="220.60" y="347.00" width="6.90" height="14.00" fill="#d3def8" />
<rect x="221.40" y="347.80" width="5.30" height="12.40" fill="#f4e2a6" />
<rect x="221.40" y="351.62" width="5.30" height="4.76" fill="#e2985a" />
<rect x="173.90" y="363.00" width="4.20" height="11.00" fill="#fffbe8" />
<rect x="173.90" y="363.00" width="4.20" height="4.50" fill="#f4e2a6" />
<rect x="174.40" y="368.00" width="3.20" height="2.50" fill="#3a3d7e" />
<rect x="190.90" y="363.00" width="4.20" height="11.00" fill="#fffbe8" />
<rect x="190.90" y="363.00" width="4.20" height="4.50" fill="#f4e2a6" />
<rect x="191.40" y="368.00" width="3.20" height="2.50" fill="#3a3d7e" />
<rect x="171.5" y="379" width="26.0" height="27" rx="1" fill="#f2c445"/>
<rect x="174.30" y="399.00" width="20.40" height="3.50" fill="#fffbe8" />
<rect x="172.3" y="375" width="24.4" height="23.8" rx="1.5" fill="#5a5a98"/>
<rect x="173.50" y="397.40" width="22.00" height="1.40" fill="#23244a" />
<rect x="204.40" y="363.00" width="4.20" height="11.00" fill="#fffbe8" />
<rect x="204.40" y="363.00" width="4.20" height="4.50" fill="#f4e2a6" />
<rect x="204.90" y="368.00" width="3.20" height="2.50" fill="#3a3d7e" />
<rect x="222.65" y="363.00" width="4.20" height="11.00" fill="#fffbe8" />
<rect x="222.65" y="363.00" width="4.20" height="4.50" fill="#f4e2a6" />
<rect x="223.15" y="368.00" width="3.20" height="2.50" fill="#3a3d7e" />
<rect x="202" y="379" width="27.25" height="27" rx="1" fill="#f2c445"/>
<rect x="204.80" y="399.00" width="21.65" height="3.50" fill="#fffbe8" />
<rect x="202.8" y="375" width="25.65" height="23.8" rx="1.5" fill="#5a5a98"/>
<rect x="204.00" y="397.40" width="23.25" height="1.40" fill="#23244a" />
<rect x="177.50" y="410.00" width="6.80" height="13.75" fill="#d3def8" />
<rect x="178.30" y="410.80" width="5.20" height="12.15" fill="#f4e2a6" />
<rect x="178.30" y="414.54" width="5.20" height="4.67" fill="#e2985a" />
<rect x="186.00" y="410.00" width="6.80" height="13.75" fill="#d3def8" />
<rect x="186.80" y="410.80" width="5.20" height="12.15" fill="#f4e2a6" />
<rect x="186.80" y="414.54" width="5.20" height="4.67" fill="#e2985a" />
<rect x="195.00" y="410.00" width="6.80" height="13.75" fill="#d3def8" />
<rect x="195.80" y="410.80" width="5.20" height="12.15" fill="#f4e2a6" />
<rect x="195.80" y="414.54" width="5.20" height="4.67" fill="#e2985a" />
<rect x="203.50" y="410.00" width="6.80" height="13.75" fill="#d3def8" />
<rect x="204.30" y="410.80" width="5.20" height="12.15" fill="#f4e2a6" />
<rect x="204.30" y="414.54" width="5.20" height="4.67" fill="#e2985a" />
<rect x="160.60" y="418.75" width="13.80" height="22.25" fill="#c9d3f2" />
<rect x="161.50" y="419.50" width="12.00" height="3.50" fill="#f4e2a6" />
<rect x="161.50" y="423.00" width="12.00" height="15.50" fill="#56588f" />
<rect x="161.50" y="438.50" width="12.00" height="2.50" fill="#fffbe8" />
<text x="321" y="244.5" font-size="4.6" fill="#e4eaff" text-anchor="middle" font-weight="normal" >R8</text>
<text x="337" y="244.5" font-size="4.6" fill="#e4eaff" text-anchor="middle" font-weight="normal" >R9</text>
<text x="361" y="246" font-size="4.6" fill="#e4eaff" text-anchor="middle" font-weight="normal" >C2C3C4</text>
<text x="299" y="256.5" font-size="4.6" fill="#e4eaff" text-anchor="middle" font-weight="normal" >D3</text>
<text x="312" y="268" font-size="4.6" fill="#e4eaff" text-anchor="middle" font-weight="normal" >Q4</text>
<text x="205.5" y="360.5" font-size="4.6" fill="#e4eaff" text-anchor="middle" font-weight="normal" >U4</text>
<text x="186" y="373" font-size="4.6" fill="#e4eaff" text-anchor="middle" font-weight="normal" >C5</text>
<text x="215" y="373" font-size="4.6" fill="#e4eaff" text-anchor="middle" font-weight="normal" >C7</text>
<text x="232" y="437" font-size="4.6" fill="#e4eaff" text-anchor="middle" font-weight="normal" transform="rotate(45 232 437)" >C18</text>
<text x="130" y="290" font-size="4.6" fill="#e4eaff" text-anchor="middle" font-weight="normal" >C21</text>
<text x="282" y="257" font-size="4.6" fill="#e4eaff" text-anchor="middle" font-weight="normal" transform="rotate(-90 282 257)" >R6</text>
<text x="286" y="276" font-size="4.6" fill="#e4eaff" text-anchor="middle" font-weight="normal" transform="rotate(-90 286 276)" >R7</text>
<text x="334" y="285" font-size="4.6" fill="#e4eaff" text-anchor="middle" font-weight="normal" >C1</text>
<text x="339" y="314" font-size="4.6" fill="#e4eaff" text-anchor="middle" font-weight="normal" >C5</text>
<text x="356" y="286" font-size="4.6" fill="#e4eaff" text-anchor="middle" font-weight="normal" >R2</text>
<text x="636" y="313" font-size="4.6" fill="#e4eaff" text-anchor="middle" font-weight="normal" >Q6</text>
<text x="622" y="316.5" font-size="4.6" fill="#e4eaff" text-anchor="middle" font-weight="normal" >D8</text>
<text x="626" y="343.5" font-size="4.6" fill="#e4eaff" text-anchor="middle" font-weight="normal" >R27</text>
<text x="677" y="367" font-size="4.6" fill="#e4eaff" text-anchor="middle" font-weight="normal" >U5</text>
<text x="713" y="367" font-size="4.6" fill="#e4eaff" text-anchor="middle" font-weight="normal" >U4</text>
<text x="725.5" y="368" font-size="4.6" fill="#e4eaff" text-anchor="middle" font-weight="normal" >C33</text>
<text x="717" y="406" font-size="4.6" fill="#e4eaff" text-anchor="middle" font-weight="normal" >U3</text>
<text x="735.5" y="402" font-size="4.6" fill="#e4eaff" text-anchor="middle" font-weight="normal" >C26</text>
<text x="745" y="411" font-size="4.6" fill="#e4eaff" text-anchor="middle" font-weight="normal" >C30</text>
<text x="642" y="411" font-size="4.6" fill="#e4eaff" text-anchor="middle" font-weight="normal" >D9</text>
<text x="410" y="275" font-size="4.6" fill="#e4eaff" text-anchor="middle" font-weight="normal" transform="rotate(180 410 275)" >C11 C13</text>
<text x="545" y="280" font-size="4.6" fill="#e4eaff" text-anchor="middle" font-weight="normal" >R23</text>
<text x="521" y="310" font-size="4.6" fill="#e4eaff" text-anchor="middle" font-weight="normal" transform="rotate(180 521 310)" >C27</text>
<text x="520" y="277" font-size="4.6" fill="#e4eaff" text-anchor="middle" font-weight="normal" >C36</text>
<text x="690" y="244.5" font-size="4.6" fill="#e4eaff" text-anchor="middle" font-weight="normal" >C41</text>
<text x="659" y="244.5" font-size="4.6" fill="#e4eaff" text-anchor="middle" font-weight="normal" >C39R30</text>
<text x="700" y="264" font-size="4.6" fill="#e4eaff" text-anchor="middle" font-weight="normal" transform="rotate(90 700 264)" >R33</text>
<text x="698" y="280" font-size="4.6" fill="#e4eaff" text-anchor="middle" font-weight="normal" transform="rotate(90 698 280)" >R32</text>
<text x="660" y="272" font-size="4.6" fill="#e4eaff" text-anchor="middle" font-weight="normal" transform="rotate(90 660 272)" >L2</text>
<text x="651" y="296" font-size="4.6" fill="#e4eaff" text-anchor="middle" font-weight="normal" transform="rotate(-90 651 296)" >D12</text>
<text x="672" y="313" font-size="4.6" fill="#e4eaff" text-anchor="middle" font-weight="normal" transform="rotate(90 672 313)" >L1</text>
<text x="722" y="312" font-size="4.6" fill="#e4eaff" text-anchor="middle" font-weight="normal" >C30 C29</text>
<text x="744" y="341" font-size="4.6" fill="#e4eaff" text-anchor="middle" font-weight="normal" transform="rotate(-90 744 341)" >U6</text>
<text x="203.6" y="256" font-size="4.6" fill="#e4eaff" text-anchor="middle" font-weight="normal" transform="rotate(-90 203.6 256)" >FUSE2</text>
<text x="224" y="283" font-size="4.6" fill="#e4eaff" text-anchor="middle" font-weight="normal" transform="rotate(180 224 283)" >FUSE</text>
<text x="240.5" y="305" font-size="4.6" fill="#e4eaff" text-anchor="middle" font-weight="normal" >TP1</text>
<text x="282" y="313" font-size="4.6" fill="#e4eaff" text-anchor="middle" font-weight="normal" transform="rotate(90 282 313)" >D7</text>
<text x="182" y="423" font-size="4.6" fill="#e4eaff" text-anchor="middle" font-weight="normal" >R3R4R5R6</text>
<text x="157" y="428" font-size="4.6" fill="#e4eaff" text-anchor="middle" font-weight="normal" transform="rotate(-90 157 428)" >D2</text>
<text x="433" y="398" font-size="4.6" fill="#e4eaff" text-anchor="middle" font-weight="normal" transform="rotate(-90 433 398)" >RL3</text>
<text x="439.5" y="420" font-size="4.6" fill="#e4eaff" text-anchor="middle" font-weight="normal" >BB0</text>
<text x="618" y="420" font-size="4.6" fill="#e4eaff" text-anchor="middle" font-weight="normal" transform="rotate(90 618 420)" >BB2</text>
<text x="606" y="456" font-size="4.6" fill="#e4eaff" text-anchor="middle" font-weight="normal" transform="rotate(-90 606 456)" >R22</text>
<g transform="translate(91.8,268)">
<circle cx="2.80" cy="0.70" r="31.3" fill="#14123a"/>
<circle cx="5.60" cy="1.40" r="31.3" fill="#14123a"/>
<circle cx="8.00" cy="2.00" r="31.3" fill="#14123a"/>
<circle cx="0" cy="0" r="31.3" fill="#3428b2"/>
<path d="M-28.6,-12.8 A31.3,31.3 0 0 0 -28.6,12.8 L-20,10.2 L-20,-10.2 Z" fill="#f8f3cc"/>
<rect x="-32.6" y="-3.2" width="8.6" height="6.6" fill="#fbf6d8" stroke="#34305e" stroke-width="1.1"/>
<circle cx="0.8" cy="0.0" r="23.6" fill="#dfe4f8"/>
</g>
<g transform="translate(55.75,327.75)">
<circle cx="2.45" cy="0.35" r="31.3" fill="#14123a"/>
<circle cx="4.90" cy="0.70" r="31.3" fill="#14123a"/>
<circle cx="7.00" cy="1.00" r="31.3" fill="#14123a"/>
<circle cx="0" cy="0" r="31.3" fill="#3428b2"/>
<path d="M-28.6,-12.8 A31.3,31.3 0 0 0 -28.6,12.8 L-20,10.2 L-20,-10.2 Z" fill="#f8f3cc"/>
<rect x="-32.6" y="-3.2" width="8.6" height="6.6" fill="#fbf6d8" stroke="#34305e" stroke-width="1.1"/>
<circle cx="2.8" cy="0.0" r="23.6" fill="#dfe4f8"/>
</g>
<g transform="translate(125,327.5)">
<circle cx="2.45" cy="0.00" r="31.3" fill="#14123a"/>
<circle cx="4.90" cy="0.00" r="31.3" fill="#14123a"/>
<circle cx="7.00" cy="0.00" r="31.3" fill="#14123a"/>
<circle cx="0" cy="0" r="31.3" fill="#3428b2"/>
<path d="M-28.6,-12.8 A31.3,31.3 0 0 0 -28.6,12.8 L-20,10.2 L-20,-10.2 Z" fill="#f8f3cc"/>
<rect x="-32.6" y="-3.2" width="8.6" height="6.6" fill="#fbf6d8" stroke="#34305e" stroke-width="1.1"/>
<circle cx="2.4" cy="0.0" r="23.6" fill="#dfe4f8"/>
</g>
<g transform="translate(56.8,394.5)">
<circle cx="2.45" cy="-0.17" r="31.3" fill="#14123a"/>
<circle cx="4.90" cy="-0.35" r="31.3" fill="#14123a"/>
<circle cx="7.00" cy="-0.50" r="31.3" fill="#14123a"/>
<circle cx="0" cy="0" r="31.3" fill="#3428b2"/>
<path d="M-28.6,-12.8 A31.3,31.3 0 0 0 -28.6,12.8 L-20,10.2 L-20,-10.2 Z" fill="#f8f3cc"/>
<rect x="-32.6" y="-3.2" width="8.6" height="6.6" fill="#fbf6d8" stroke="#34305e" stroke-width="1.1"/>
<circle cx="2.6" cy="0.0" r="23.6" fill="#dfe4f8"/>
</g>
<g transform="translate(126,395)">
<circle cx="2.45" cy="-0.52" r="31.3" fill="#14123a"/>
<circle cx="4.90" cy="-1.05" r="31.3" fill="#14123a"/>
<circle cx="7.00" cy="-1.50" r="31.3" fill="#14123a"/>
<circle cx="0" cy="0" r="31.3" fill="#3428b2"/>
<path d="M-28.6,-12.8 A31.3,31.3 0 0 0 -28.6,12.8 L-20,10.2 L-20,-10.2 Z" fill="#f8f3cc"/>
<rect x="-32.6" y="-3.2" width="8.6" height="6.6" fill="#fbf6d8" stroke="#34305e" stroke-width="1.1"/>
<circle cx="2.0" cy="0.0" r="23.6" fill="#dfe4f8"/>
</g>
<g transform="translate(197.5,469)">
<circle cx="2.45" cy="-1.75" r="31.3" fill="#14123a"/>
<circle cx="4.90" cy="-3.50" r="31.3" fill="#14123a"/>
<circle cx="7.00" cy="-5.00" r="31.3" fill="#14123a"/>
<circle cx="0" cy="0" r="31.3" fill="#3428b2"/>
<path d="M-28.6,-12.8 A31.3,31.3 0 0 0 -28.6,12.8 L-20,10.2 L-20,-10.2 Z" fill="#f8f3cc"/>
<rect x="-32.6" y="-3.2" width="8.6" height="6.6" fill="#fbf6d8" stroke="#34305e" stroke-width="1.1"/>
<circle cx="2.0" cy="0.0" r="23.6" fill="#dfe4f8"/>
</g>
<rect x="67.50" y="443.00" width="98.50" height="18.00" fill="#fff" />
<text x="78.8" y="457.3" font-size="13.6" font-weight="bold" fill="#5b7bcf" textLength="78" lengthAdjust="spacingAndGlyphs">MINIBOX V1</text>
<rect x="40.00" y="462.50" width="127.50" height="38.50" fill="#fff" />
<defs><radialGradient id="tg" cx="0.5" cy="0.45" r="0.6"><stop offset="0" stop-color="#e4e8f8"/><stop offset="1" stop-color="#dde3f6"/></radialGradient>
<radialGradient id="cg" cx="0.5" cy="0.5" r="0.5"><stop offset="0" stop-color="#bcc5ee" stop-opacity="0.9"/><stop offset="1" stop-color="#dfe4f7" stop-opacity="0"/></radialGradient></defs>
<circle cx="329.5" cy="407" r="93" fill="#d9dff4"/>
<circle cx="329.5" cy="407" r="81" fill="url(#tg)"/>
<path d="M322.3,389.7 L346.1,316.5 M319.8,389.1 L329.4,315.0 M317.3,389.0 L313.5,316.4 M314.8,389.4 L298.5,320.4 M311.7,390.5 L280.6,329.0 M308.7,392.5 L264.2,342.2 M306.9,394.5 L254.1,354.3 M305.2,397.3 L245.0,370.5 M304.3,400.2 L239.7,386.8 M304.0,403.5 L237.5,406.1 M304.4,406.3 L238.8,422.3 M305.3,408.8 L242.6,437.3 M306.5,411.0 L248.9,451.4 M308.0,412.8 L256.8,463.4" stroke="#adb5dc" stroke-width="1.6" fill="none" stroke-linecap="round"/>
<circle cx="318" cy="403" r="14" fill="url(#cg)" opacity="0.5"/>
<path d="M360,407.5 L416,440 M377,409 L415,435 M352,415 L405,462 M345,401 L420,390" stroke="#b2bae0" stroke-width="1.1" fill="none"/>
<circle cx="329.5" cy="407" r="92" fill="none" stroke="#f8faff" stroke-width="2"/>
<circle cx="329.5" cy="407" r="81" fill="none" stroke="#ffffff" stroke-width="1.8"/>
<line x1="340.5" y1="389.5" x2="321" y2="422.5" stroke="#ffffff" stroke-width="12" stroke-linecap="round"/>
<circle cx="372.5" cy="390" r="14.5" fill="#f6efc4"/>
<circle cx="372.5" cy="390" r="8.5" fill="#fffef8"/>
<rect x="432.50" y="422.00" width="84.00" height="91.50" fill="#b4c6f2" />
<rect x="434.00" y="423.50" width="81.00" height="71.50" fill="#fcfcff" />
<rect x="434.00" y="423.50" width="81.00" height="2.90" fill="#3a3a5c" />
<rect x="434.00" y="426.40" width="81.00" height="3.60" fill="#f8f8fc" />
<rect x="452.00" y="426.40" width="5.00" height="3.60" fill="#3a3a5c" />
<rect x="491.00" y="426.40" width="5.50" height="3.60" fill="#3a3a5c" />
<defs><linearGradient id="cb" x1="0" y1="0" x2="0" y2="1"><stop offset="0" stop-color="#3c3c68"/><stop offset="1" stop-color="#55558a"/></linearGradient>
<linearGradient id="cg2" x1="0" y1="0" x2="0" y2="1"><stop offset="0" stop-color="#a8aabb"/><stop offset="1" stop-color="#f0f0f6"/></linearGradient></defs>
<rect x="434.00" y="430.00" width="81.00" height="19.40" fill="url(#cb)" />
<rect x="434.00" y="485.50" width="81.00" height="3.30" fill="#2e2e48" />
<rect x="434.00" y="488.80" width="81.00" height="6.20" fill="url(#cg2)" />
<circle cx="455" cy="467.5" r="14" fill="#000"/>
<circle cx="495.5" cy="467.5" r="14" fill="#000"/>
<text x="455" y="472.4" font-size="13.5" fill="#fff" text-anchor="middle" font-weight="bold" >1</text>
<text x="495.5" y="472.4" font-size="13.5" fill="#fff" text-anchor="middle" font-weight="bold" >2</text>
<rect x="434.00" y="496.00" width="77.60" height="16.00" fill="#fff" />
<text x="450.4" y="508" font-size="14.6" font-weight="bold" fill="#6b8cd8" textLength="43.4" lengthAdjust="spacingAndGlyphs">CELL</text>
<rect x="519.00" y="417.50" width="82.00" height="38.00" fill="#b4c6f2" />
<path d="M520.6,418.75 H596.5 Q599.4,418.75 599.4,422 V453.6 H520.6 Z" fill="#84d784"/>
<path d="M520.6,418.75 H596.5 Q599.4,418.75 599.4,422 V430.5 H520.6 Z" fill="#1f7a27"/>
<rect x="520.60" y="450.00" width="78.80" height="3.60" fill="#22802a" />
<rect x="520.60" y="430.50" width="78.80" height="1.50" fill="#5fb863" />
<circle cx="542" cy="435.6" r="1.2" fill="#5fb863"/>
<circle cx="561.7" cy="435.6" r="1.2" fill="#5fb863"/>
<circle cx="581.4" cy="435.6" r="1.2" fill="#5fb863"/>
<circle cx="532.4" cy="440.7" r="7.1" fill="#000"/>
<text x="532.4" y="444.8" font-size="11" fill="#fff" text-anchor="middle" font-weight="bold" >3</text>
<circle cx="552.1" cy="440.7" r="7.1" fill="#000"/>
<text x="552.1" y="444.8" font-size="11" fill="#fff" text-anchor="middle" font-weight="bold" >4</text>
<circle cx="570.9" cy="440.7" r="7.1" fill="#000"/>
<text x="570.9" y="444.8" font-size="11" fill="#fff" text-anchor="middle" font-weight="bold" >5</text>
<circle cx="590.9" cy="440.7" r="7.1" fill="#000"/>
<text x="590.9" y="444.8" font-size="11" fill="#fff" text-anchor="middle" font-weight="bold" >6</text>
<rect x="516.40" y="454.20" width="20.40" height="58.80" fill="#d4defa" />
<rect x="517.30" y="455.00" width="18.60" height="57.00" fill="#7b9be0" />
<rect x="536.10" y="454.20" width="19.80" height="58.80" fill="#d4defa" />
<rect x="537.00" y="455.00" width="18.00" height="57.00" fill="#7b9be0" />
<rect x="555.10" y="454.20" width="20.50" height="58.80" fill="#d4defa" />
<rect x="556.00" y="455.00" width="18.70" height="57.00" fill="#7b9be0" />
<rect x="574.60" y="454.20" width="23.30" height="58.80" fill="#d4defa" />
<rect x="575.50" y="455.00" width="21.50" height="57.00" fill="#7b9be0" />
<text transform="translate(523.2,457.5) rotate(90)" font-size="11.2" font-weight="bold" fill="#fff" textLength="53" lengthAdjust="spacingAndGlyphs">FLOW GAS</text>
<text transform="translate(542.2,460.7) rotate(90)" font-size="12.6" font-weight="bold" fill="#fff" textLength="45" lengthAdjust="spacingAndGlyphs">COVER</text>
<text transform="translate(561.8,458) rotate(90)" font-size="13" font-weight="bold" fill="#fff" textLength="27" lengthAdjust="spacingAndGlyphs">FL1/</text>
<text transform="translate(567,486) rotate(90)" font-size="5.8" font-weight="bold" fill="#fff" textLength="20" lengthAdjust="spacingAndGlyphs">FLOW</text>
<text transform="translate(559.5,481) rotate(90)" font-size="5.8" font-weight="bold" fill="#fff" textLength="30" lengthAdjust="spacingAndGlyphs">SWITCH</text>
<text transform="translate(582,467) rotate(90)" font-size="11.6" font-weight="bold" fill="#fff" textLength="30" lengthAdjust="spacingAndGlyphs">RETN</text>
<rect x="380.00" y="529.50" width="403.00" height="1.00" fill="#e9e9e9" />
<g fill="none" stroke-width="1.6">
<path d="M456,494 V522" stroke="#1a5fb8"/>
<path d="M456,522.3 H534" stroke="#1e1e28"/>
<path d="M496,492 V522" stroke="#1e1e28"/>
<path d="M534,454 V522" stroke="#17a04a" stroke-dasharray="4,1.8"/>
<path d="M552.7,454 V522.3 H593.5 V454" stroke="#1e1e28"/>
<path d="M573.6,454 V508.5 H633" stroke="#1e1e28"/>
<path d="M597.2,454 V508.5" stroke="#1e1e28"/>
</g>
<g fill="none" stroke="#383838" stroke-width="4.6">
<path d="M476,522 V559"/>
<path d="M573.5,522 V559"/>
<path d="M633,507 V543.3 H683.5 V559.5"/>
</g>
<g font-size="12.2" font-weight="bold" text-anchor="middle" fill="#1b1b1b">
<text x="475.2" y="572">ЯЧЕЙКА</text>
<text x="572.8" y="572">СТВОРКА</text>
<text x="689" y="572">ДАТЧИК</text>
<text x="689.1" y="590.5">РАСХОДА FL1</text>
</g>
<g font-size="12" fill="#1b1b1b">
<text x="434.5" y="590.3">Синий</text>
<text x="434.5" y="607.8">Коричневый</text>
<text x="434.5" y="625.8">Желтый / зеленый</text>
</g>
<circle cx="420.5" cy="584.5" r="5.6" fill="#111"/>
<text x="420.5" y="588.0" font-size="9.6" fill="#fff" text-anchor="middle" font-weight="bold" >1</text>
<circle cx="420.5" cy="602" r="5.6" fill="#111"/>
<text x="420.5" y="605.5" font-size="9.6" fill="#fff" text-anchor="middle" font-weight="bold" >2</text>
<circle cx="420.5" cy="620.5" r="5.6" fill="#111"/>
<text x="420.5" y="624.0" font-size="9.6" fill="#fff" text-anchor="middle" font-weight="bold" >3</text>
<circle cx="559.5" cy="584.5" r="5.6" fill="#111"/>
<text x="559.5" y="588.0" font-size="9.6" fill="#fff" text-anchor="middle" font-weight="bold" >4</text>
<circle cx="586" cy="584.5" r="5.6" fill="#111"/>
<text x="586" y="588.0" font-size="9.6" fill="#fff" text-anchor="middle" font-weight="bold" >6</text>
<text x="573" y="590.3" font-size="12" fill="#1b1b1b" text-anchor="middle" font-weight="normal" >и</text>
<circle cx="676" cy="602.5" r="5.6" fill="#111"/>
<text x="676" y="606.0" font-size="9.6" fill="#fff" text-anchor="middle" font-weight="bold" >5</text>
<circle cx="702.5" cy="602.5" r="5.6" fill="#111"/>
<text x="702.5" y="606.0" font-size="9.6" fill="#fff" text-anchor="middle" font-weight="bold" >6</text>
<text x="689.3" y="608.3" font-size="12" fill="#1b1b1b" text-anchor="middle" font-weight="normal" >и</text>
</svg>
</body></html>
